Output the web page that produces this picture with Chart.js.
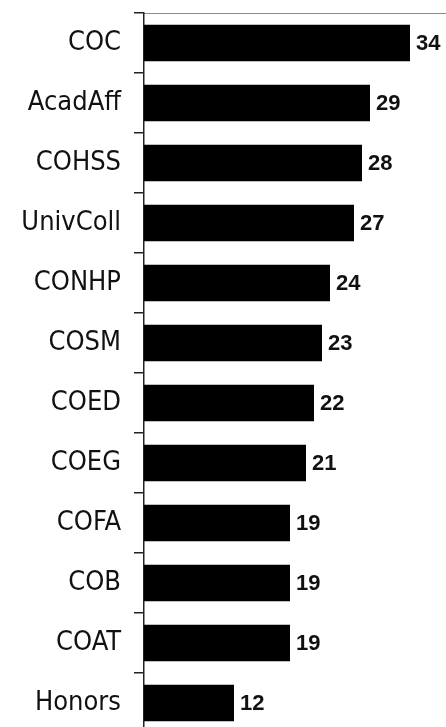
<!DOCTYPE html>
<html>
<head>
<meta charset="utf-8">
<script src="https://cdn.jsdelivr.net/npm/chart.js@4.4.0/dist/chart.umd.min.js"></script>
<style>
    html, body { margin: 0; padding: 0; background: #fff; overflow: hidden; }
    #chart { display: block; }
</style>
</head>
<body>
<canvas id="chart" width="446" height="733"></canvas>
<script>
const categories = ['COC', 'AcadAff', 'COHSS', 'UnivColl', 'CONHP', 'COSM', 'COED', 'COEG', 'COFA', 'COB', 'COAT', 'Honors'];
const counts = [34, 29, 28, 27, 24, 23, 22, 21, 19, 19, 19, 12];

// draws the number just past the end of each bar
const valueLabels = {
    id: 'valueLabels',
    afterDatasetsDraw(chart) {
        const ctx = chart.ctx;
        const meta = chart.getDatasetMeta(0);
        ctx.save();
        ctx.font = 'bold 22px "Liberation Sans", Arial, sans-serif';
        ctx.fillStyle = '#111';
        ctx.textAlign = 'left';
        ctx.textBaseline = 'middle';
        meta.data.forEach(function(bar, i) {
            ctx.fillText(String(counts[i]), bar.x + 6, bar.y + 1);
        });
        ctx.restore();
    }
};

const ctx = document.getElementById('chart').getContext('2d');
new Chart(ctx, {
    type: 'bar',
    data: {
        labels: categories,
        datasets: [{
            data: counts,
            backgroundColor: '#000',
            borderWidth: 0,
            categoryPercentage: 1,
            barPercentage: 0.61
        }]
    },
    options: {
        indexAxis: 'y',
        responsive: false,
        animation: false,
        devicePixelRatio: 1,
        layout: { padding: 0 },
        plugins: {
            legend: { display: false },
            tooltip: { enabled: false }
        },
        scales: {
            x: {
                position: 'top',
                min: 0.75,
                max: 38.5,
                ticks: { display: false },
                grid: { display: false },
                border: { display: true, color: '#8a8a8a', width: 1 },
                afterFit: function(scale) {
                    scale.height = 13;
                    scale.paddingLeft = 0;
                    scale.paddingRight = 0;
                }
            },
            y: {
                offset: true,
                grid: {
                    offset: true,
                    drawOnChartArea: false,
                    drawTicks: true,
                    tickLength: 10,
                    color: '#222',
                    lineWidth: 1.5
                },
                border: { display: true, color: '#222', width: 1.5 },
                ticks: {
                    padding: 13,
                    color: '#111',
                    font: { family: '"DejaVu Sans Condensed", "DejaVu Sans", sans-serif', size: 27 }
                },
                afterFit: function(scale) {
                    scale.width = 144;
                    scale.paddingTop = 0;
                    scale.paddingBottom = 0;
                }
            }
        }
    },
    plugins: [valueLabels]
});
</script>
</body>
</html>
